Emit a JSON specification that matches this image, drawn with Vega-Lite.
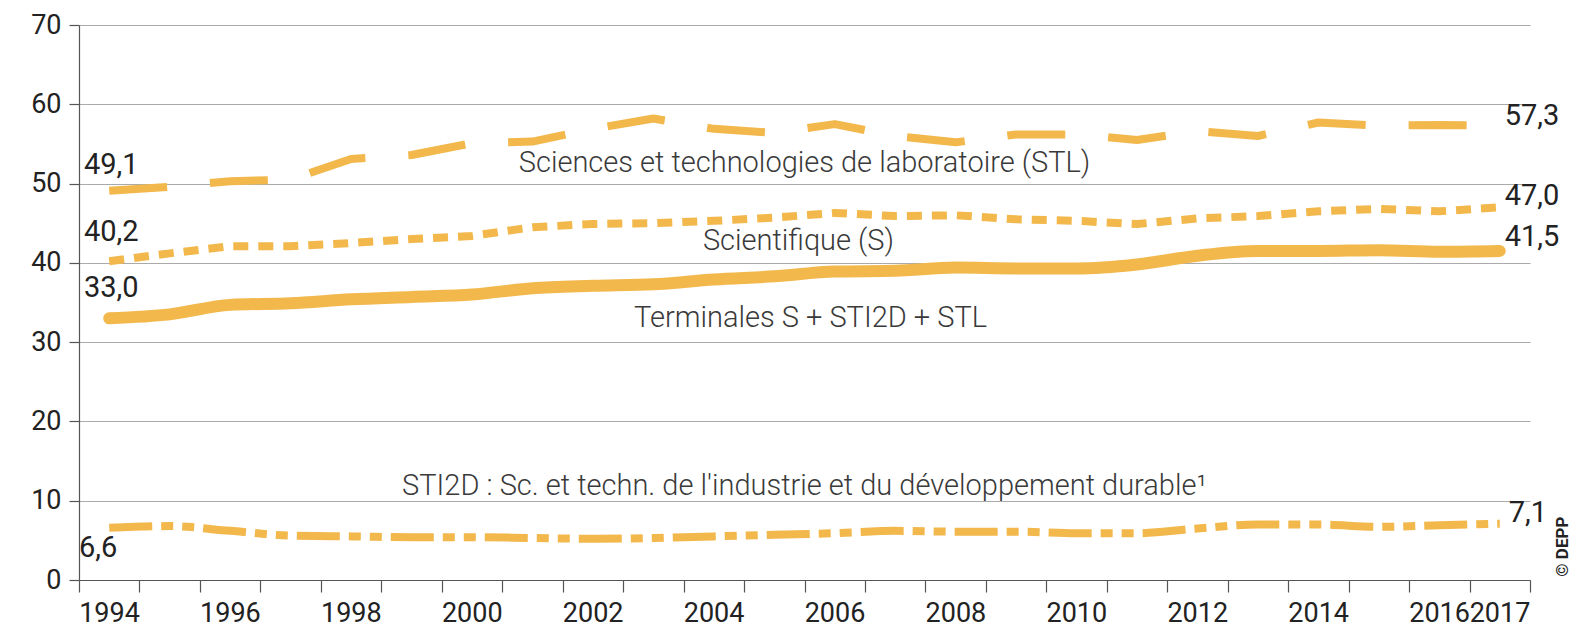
{
  "$schema": "https://vega.github.io/schema/vega-lite/v6.json",
  "width": 1451,
  "height": 555,
  "autosize": {"type": "none"},
  "padding": {"left": 79, "top": 25, "right": 48, "bottom": 50},
  "background": "white",
  "config": {
    "view": {"stroke": null},
    "font": "Roboto",
    "locale": {"number": {"decimal": ",", "thousands": " ", "grouping": [3], "currency": ["", " €"]}}
  },
  "datasets": {
    "series": [
      {"year": 1994, "serie": "STL", "value": 49.1}, {"year": 1995, "serie": "STL", "value": 49.6}, {"year": 1996, "serie": "STL", "value": 50.3}, {"year": 1997, "serie": "STL", "value": 50.5}, {"year": 1998, "serie": "STL", "value": 53.1}, {"year": 1999, "serie": "STL", "value": 53.6}, {"year": 2000, "serie": "STL", "value": 55.1}, {"year": 2001, "serie": "STL", "value": 55.3}, {"year": 2002, "serie": "STL", "value": 56.9}, {"year": 2003, "serie": "STL", "value": 58.2}, {"year": 2004, "serie": "STL", "value": 56.9}, {"year": 2005, "serie": "STL", "value": 56.4}, {"year": 2006, "serie": "STL", "value": 57.5}, {"year": 2007, "serie": "STL", "value": 56.0}, {"year": 2008, "serie": "STL", "value": 55.2}, {"year": 2009, "serie": "STL", "value": 56.2}, {"year": 2010, "serie": "STL", "value": 56.2}, {"year": 2011, "serie": "STL", "value": 55.5}, {"year": 2012, "serie": "STL", "value": 56.6}, {"year": 2013, "serie": "STL", "value": 56.0}, {"year": 2014, "serie": "STL", "value": 57.7}, {"year": 2015, "serie": "STL", "value": 57.3}, {"year": 2016, "serie": "STL", "value": 57.4}, {"year": 2017, "serie": "STL", "value": 57.3},
      {"year": 1994, "serie": "S", "value": 40.2}, {"year": 1995, "serie": "S", "value": 41.2}, {"year": 1996, "serie": "S", "value": 42.1}, {"year": 1997, "serie": "S", "value": 42.1}, {"year": 1998, "serie": "S", "value": 42.5}, {"year": 1999, "serie": "S", "value": 43.0}, {"year": 2000, "serie": "S", "value": 43.4}, {"year": 2001, "serie": "S", "value": 44.5}, {"year": 2002, "serie": "S", "value": 44.9}, {"year": 2003, "serie": "S", "value": 45.0}, {"year": 2004, "serie": "S", "value": 45.3}, {"year": 2005, "serie": "S", "value": 45.7}, {"year": 2006, "serie": "S", "value": 46.3}, {"year": 2007, "serie": "S", "value": 45.9}, {"year": 2008, "serie": "S", "value": 46.0}, {"year": 2009, "serie": "S", "value": 45.5}, {"year": 2010, "serie": "S", "value": 45.3}, {"year": 2011, "serie": "S", "value": 44.9}, {"year": 2012, "serie": "S", "value": 45.6}, {"year": 2013, "serie": "S", "value": 45.9}, {"year": 2014, "serie": "S", "value": 46.5}, {"year": 2015, "serie": "S", "value": 46.8}, {"year": 2016, "serie": "S", "value": 46.5}, {"year": 2017, "serie": "S", "value": 47.0},
      {"year": 1994, "serie": "Total", "value": 33.0}, {"year": 1995, "serie": "Total", "value": 33.5}, {"year": 1996, "serie": "Total", "value": 34.7}, {"year": 1997, "serie": "Total", "value": 34.9}, {"year": 1998, "serie": "Total", "value": 35.4}, {"year": 1999, "serie": "Total", "value": 35.7}, {"year": 2000, "serie": "Total", "value": 36.0}, {"year": 2001, "serie": "Total", "value": 36.8}, {"year": 2002, "serie": "Total", "value": 37.1}, {"year": 2003, "serie": "Total", "value": 37.3}, {"year": 2004, "serie": "Total", "value": 37.9}, {"year": 2005, "serie": "Total", "value": 38.3}, {"year": 2006, "serie": "Total", "value": 38.9}, {"year": 2007, "serie": "Total", "value": 39.0}, {"year": 2008, "serie": "Total", "value": 39.4}, {"year": 2009, "serie": "Total", "value": 39.3}, {"year": 2010, "serie": "Total", "value": 39.3}, {"year": 2011, "serie": "Total", "value": 39.8}, {"year": 2012, "serie": "Total", "value": 40.9}, {"year": 2013, "serie": "Total", "value": 41.5}, {"year": 2014, "serie": "Total", "value": 41.5}, {"year": 2015, "serie": "Total", "value": 41.6}, {"year": 2016, "serie": "Total", "value": 41.4}, {"year": 2017, "serie": "Total", "value": 41.5},
      {"year": 1994, "serie": "STI2D", "value": 6.6}, {"year": 1995, "serie": "STI2D", "value": 6.8}, {"year": 1996, "serie": "STI2D", "value": 6.2}, {"year": 1997, "serie": "STI2D", "value": 5.6}, {"year": 1998, "serie": "STI2D", "value": 5.5}, {"year": 1999, "serie": "STI2D", "value": 5.4}, {"year": 2000, "serie": "STI2D", "value": 5.4}, {"year": 2001, "serie": "STI2D", "value": 5.3}, {"year": 2002, "serie": "STI2D", "value": 5.2}, {"year": 2003, "serie": "STI2D", "value": 5.3}, {"year": 2004, "serie": "STI2D", "value": 5.5}, {"year": 2005, "serie": "STI2D", "value": 5.7}, {"year": 2006, "serie": "STI2D", "value": 5.9}, {"year": 2007, "serie": "STI2D", "value": 6.2}, {"year": 2008, "serie": "STI2D", "value": 6.1}, {"year": 2009, "serie": "STI2D", "value": 6.1}, {"year": 2010, "serie": "STI2D", "value": 5.9}, {"year": 2011, "serie": "STI2D", "value": 5.9}, {"year": 2012, "serie": "STI2D", "value": 6.5}, {"year": 2013, "serie": "STI2D", "value": 7.0}, {"year": 2014, "serie": "STI2D", "value": 7.0}, {"year": 2015, "serie": "STI2D", "value": 6.7}, {"year": 2016, "serie": "STI2D", "value": 6.9}, {"year": 2017, "serie": "STI2D", "value": 7.1}
    ],
    "names": [
      {"year": 2005.5, "value": 52.6, "label": "Sciences et technologies de laboratoire (STL)"},
      {"year": 2005.4, "value": 42.8, "label": "Scientifique (S)"},
      {"year": 2005.6, "value": 33.1, "label": "Terminales S + STI2D + STL"},
      {"year": 2005.5, "value": 11.9, "label": "STI2D : Sc. et techn. de l'industrie et du développement durable¹"}
    ],
    "credit": [
      {"year": 2018.05, "value": 4.2, "label": "© DEPP"}
    ]
  },
  "layer": [
    {
      "data": {"name": "series"},
      "transform": [{"filter": "datum.serie === 'STL'"}],
      "mark": {"type": "line", "color": "#F2B84C", "strokeWidth": 8, "strokeDash": [58, 43], "strokeCap": "butt", "strokeJoin": "round"},
      "encoding": {
        "x": {"field": "year", "type": "quantitative", "scale": {"domain": [1993.5, 2017.5], "nice": false, "zero": false},
          "axis": {"title": null, "grid": false, "values": [1993.5, 1994.5, 1995.5, 1996.5, 1997.5, 1998.5, 1999.5, 2000.5, 2001.5, 2002.5, 2003.5, 2004.5, 2005.5, 2006.5, 2007.5, 2008.5, 2009.5, 2010.5, 2011.5, 2012.5, 2013.5, 2014.5, 2015.5, 2016.5, 2017.5],
            "labelExpr": "indexof([1994,1996,1998,2000,2002,2004,2006,2008,2010,2012,2014,2016,2017], datum.value + 0.5) >= 0 ? '' + (datum.value + 0.5) : ''",
            "labelOffset": 30, "labelFlush": false, "labelOverlap": false, "labelBound": false,
            "labelFontSize": 27, "labelColor": "#222", "labelPadding": 8, "labelFont": "Roboto",
            "domainColor": "#555", "tickColor": "#555", "tickSize": 12, "domainWidth": 1.2, "tickWidth": 1.2}},
        "y": {"field": "value", "type": "quantitative", "scale": {"domain": [0, 70], "nice": false, "zero": true},
          "axis": {"title": null, "values": [0, 10, 20, 30, 40, 50, 60, 70], "grid": true, "gridColor": "#aaa", "gridWidth": 1.2,
            "labelFontSize": 27, "labelColor": "#222", "labelPadding": 8, "labelFont": "Roboto",
            "domainColor": "#555", "tickColor": "#555", "tickSize": 10, "domainWidth": 1.2, "tickWidth": 1.2}}
      }
    },
    {
      "data": {"name": "series"},
      "transform": [{"filter": "datum.serie === 'S'"}],
      "mark": {"type": "line", "color": "#F2B84C", "strokeWidth": 8, "strokeDash": [15, 10], "strokeCap": "butt", "strokeJoin": "round"},
      "encoding": {
        "x": {"field": "year", "type": "quantitative"},
        "y": {"field": "value", "type": "quantitative"}
      }
    },
    {
      "data": {"name": "series"},
      "transform": [{"filter": "datum.serie === 'Total'"}],
      "mark": {"type": "line", "color": "#F2B84C", "strokeWidth": 12, "strokeCap": "round", "strokeJoin": "round", "interpolate": "monotone"},
      "encoding": {
        "x": {"field": "year", "type": "quantitative"},
        "y": {"field": "value", "type": "quantitative"}
      }
    },
    {
      "data": {"name": "series"},
      "transform": [{"filter": "datum.serie === 'STI2D'"}],
      "mark": {"type": "line", "color": "#F2B84C", "strokeWidth": 8, "strokeDash": [43, 9, 12, 9, 12, 9], "strokeCap": "butt", "interpolate": "monotone"},
      "encoding": {
        "x": {"field": "year", "type": "quantitative"},
        "y": {"field": "value", "type": "quantitative"}
      }
    },
    {
      "data": {"name": "series"},
      "transform": [{"filter": "datum.serie === 'STL' && datum.year === 1994"}],
      "mark": {"type": "text", "fontSize": 29, "color": "#222", "align": "center", "baseline": "middle", "dx": 2, "dy": -26},
      "encoding": {"x": {"field": "year", "type": "quantitative"}, "y": {"field": "value", "type": "quantitative"}, "text": {"field": "value", "type": "quantitative", "format": ".1f"}}
    },
    {
      "data": {"name": "series"},
      "transform": [{"filter": "datum.serie === 'S' && datum.year === 1994"}],
      "mark": {"type": "text", "fontSize": 29, "color": "#222", "align": "center", "baseline": "middle", "dx": 2, "dy": -29},
      "encoding": {"x": {"field": "year", "type": "quantitative"}, "y": {"field": "value", "type": "quantitative"}, "text": {"field": "value", "type": "quantitative", "format": ".1f"}}
    },
    {
      "data": {"name": "series"},
      "transform": [{"filter": "datum.serie === 'Total' && datum.year === 1994"}],
      "mark": {"type": "text", "fontSize": 29, "color": "#222", "align": "center", "baseline": "middle", "dx": 2, "dy": -30},
      "encoding": {"x": {"field": "year", "type": "quantitative"}, "y": {"field": "value", "type": "quantitative"}, "text": {"field": "value", "type": "quantitative", "format": ".1f"}}
    },
    {
      "data": {"name": "series"},
      "transform": [{"filter": "datum.serie === 'STI2D' && datum.year === 1994"}],
      "mark": {"type": "text", "fontSize": 29, "color": "#222", "align": "center", "baseline": "middle", "dx": -11, "dy": 20},
      "encoding": {"x": {"field": "year", "type": "quantitative"}, "y": {"field": "value", "type": "quantitative"}, "text": {"field": "value", "type": "quantitative", "format": ".1f"}}
    },
    {
      "data": {"name": "series"},
      "transform": [{"filter": "datum.serie === 'STL' && datum.year === 2017"}],
      "mark": {"type": "text", "fontSize": 29, "color": "#222", "align": "left", "baseline": "middle", "dx": 5, "dy": -10},
      "encoding": {"x": {"field": "year", "type": "quantitative"}, "y": {"field": "value", "type": "quantitative"}, "text": {"field": "value", "type": "quantitative", "format": ".1f"}}
    },
    {
      "data": {"name": "series"},
      "transform": [{"filter": "datum.serie === 'S' && datum.year === 2017"}],
      "mark": {"type": "text", "fontSize": 29, "color": "#222", "align": "left", "baseline": "middle", "dx": 5, "dy": -11},
      "encoding": {"x": {"field": "year", "type": "quantitative"}, "y": {"field": "value", "type": "quantitative"}, "text": {"field": "value", "type": "quantitative", "format": ".1f"}}
    },
    {
      "data": {"name": "series"},
      "transform": [{"filter": "datum.serie === 'Total' && datum.year === 2017"}],
      "mark": {"type": "text", "fontSize": 29, "color": "#222", "align": "left", "baseline": "middle", "dx": 5, "dy": -14},
      "encoding": {"x": {"field": "year", "type": "quantitative"}, "y": {"field": "value", "type": "quantitative"}, "text": {"field": "value", "type": "quantitative", "format": ".1f"}}
    },
    {
      "data": {"name": "series"},
      "transform": [{"filter": "datum.serie === 'STI2D' && datum.year === 2017"}],
      "mark": {"type": "text", "fontSize": 29, "color": "#222", "align": "left", "baseline": "middle", "dx": 9, "dy": -11},
      "encoding": {"x": {"field": "year", "type": "quantitative"}, "y": {"field": "value", "type": "quantitative"}, "text": {"field": "value", "type": "quantitative", "format": ".1f"}}
    },
    {
      "data": {"name": "names"},
      "mark": {"type": "text", "fontSize": 29, "fontWeight": 300, "color": "#3a3a3a", "align": "center", "baseline": "middle"},
      "encoding": {"x": {"field": "year", "type": "quantitative"}, "y": {"field": "value", "type": "quantitative"}, "text": {"field": "label", "type": "nominal"}}
    },
    {
      "data": {"name": "credit"},
      "mark": {"type": "text", "fontSize": 17, "fontWeight": "bold", "color": "#222", "align": "center", "baseline": "middle", "angle": 270},
      "encoding": {"x": {"field": "year", "type": "quantitative"}, "y": {"field": "value", "type": "quantitative"}, "text": {"field": "label", "type": "nominal"}}
    }
  ]
}
